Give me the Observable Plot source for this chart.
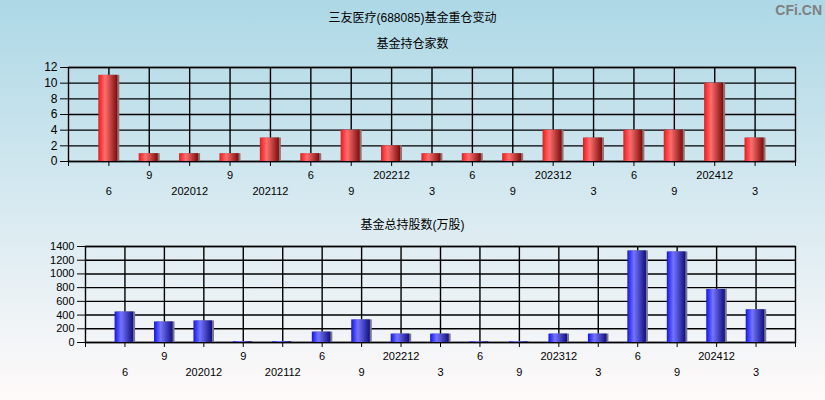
<!DOCTYPE html>
<html>
<head>
<meta charset="utf-8">
<script src="https://cdn.jsdelivr.net/npm/d3@7"></script>
<script src="https://cdn.jsdelivr.net/npm/@observablehq/plot@0.6"></script>
<style>
  html, body { margin: 0; padding: 0; }
  #root { position: relative; width: 825px; height: 400px; overflow: hidden;
    background: linear-gradient(to bottom, #add8e6 0%, #d6e9f0 50%, #fffafa 100%);
    font-family: "Liberation Sans", Arial, "Noto Sans CJK SC", sans-serif; color: #000; }
  .t { position: absolute; left: 0; width: 825px; text-align: center; font-size: 12px; line-height: 14px;
    font-family: "Liberation Sans", Arial, "Noto Sans CJK SC", sans-serif; }
  .wm { position: absolute; right: 3px; top: 2px; font-size: 14px; font-weight: bold; color: #808080;
    font-family: "Liberation Sans", Arial, sans-serif; }
  .p { position: absolute; left: 0; }
</style>
</head>
<body>
<div id="root">
  <div class="t" style="top:11px">三友医疗(688085)基金重仓变动</div>
  <div class="t" style="top:37px">基金持仓家数</div>
  <div class="t" style="top:218px">基金总持股数(万股)</div>
  <div class="wm">CFi.CN</div>
  <div class="p" id="top" style="top:50px"></div>
  <div class="p" id="bottom" style="top:230px"></div>
</div>
<script>
const periods = ["202006","202009","202012","202109","202112","202206","202209","202212","202303","202306","202309","202312","202403","202406","202409","202412","202503"];
const tickLabels = ["6","9","202012","9","202112","6","9","202212","3","6","9","202312","3","6","9","202412","3"];
const fundCount = [11,1,1,1,3,1,4,2,1,1,1,4,3,4,4,10,3];
const totalShares = [445,300,315,12,12,152,330,123,123,10,10,123,123,1336,1321,774,478];
const countTicks = [0,2,4,6,8,10,12];
const shareTicks = [0,200,400,600,800,1000,1200,1400];

function makeChart(values, yTicks, yMax, gradId, stops, ml, mt, mb, h) {
  const data = periods.map((p, i) => ({i, p, v: values[i]}));
  const idx = d3.range(periods.length);
  const edges = d3.range(-1, periods.length + 1);
  const svg = Plot.plot({
    width: 825, height: h,
    marginLeft: ml, marginRight: 30, marginTop: mt, marginBottom: mb,
    style: {background: "transparent", fontFamily: "Liberation Sans, Arial, sans-serif", color: "#000"},
    x: {type: "linear", domain: [-1, periods.length], axis: null},
    y: {domain: [0, yMax], axis: null},
    marks: [
      Plot.ruleY(yTicks, {stroke: "#000", strokeWidth: 1.4}),
      Plot.ruleX(idx, {stroke: "#000", strokeWidth: 1.4}),
      Plot.frame({stroke: "#000", strokeWidth: 1.4}),
      Plot.rectY(data, {x1: d => d.i - 0.2, x2: d => d.i + 0.27, y1: 0, y2: "v", fill: "#7a7a7a"}),
      Plot.rectY(data, {x1: d => d.i - 0.25, x2: d => d.i + 0.22, y1: 0, y2: "v", fill: `url(#${gradId})`}),
      Plot.axisY(yTicks, {tickSize: 8, tickPadding: 3, fontSize: yMax > 100 ? 11 : 12, stroke: "#000", fill: "#000",
        label: null, tickFormat: d => String(d)}),
      Plot.axisX(edges, {tickSize: 5, tickPadding: 5, fontSize: 11, stroke: "#000", fill: "#000", label: null,
        tickFormat: i => (i >= 0 && i < periods.length && i % 2 === 1) ? tickLabels[i] : ""}),
      Plot.axisX(idx.filter(i => i % 2 === 0), {tickSize: 0, tickPadding: 26, fontSize: 11, fill: "#000", label: null,
        tickFormat: i => tickLabels[i]})
    ]
  });
  const defs = d3.select(svg).insert("defs", ":first-child");
  const g = defs.append("linearGradient").attr("id", gradId).attr("x1", "0").attr("x2", "1").attr("y1", "0").attr("y2", "0");
  stops.forEach(([o, c]) => g.append("stop").attr("offset", o).attr("stop-color", c));
  return svg;
}

document.getElementById("top").appendChild(
  makeChart(fundCount, countTicks, 12, "redGrad",
    [["0%", "#ff1010"], ["35%", "#ff7070"], ["100%", "#7d0c0c"]], 68, 17, 39, 150));
document.getElementById("bottom").appendChild(
  makeChart(totalShares, shareTicks, 1400, "blueGrad",
    [["0%", "#1010ff"], ["35%", "#7575ff"], ["100%", "#10107d"]], 85, 16, 58, 170));
</script>
</body>
</html>
